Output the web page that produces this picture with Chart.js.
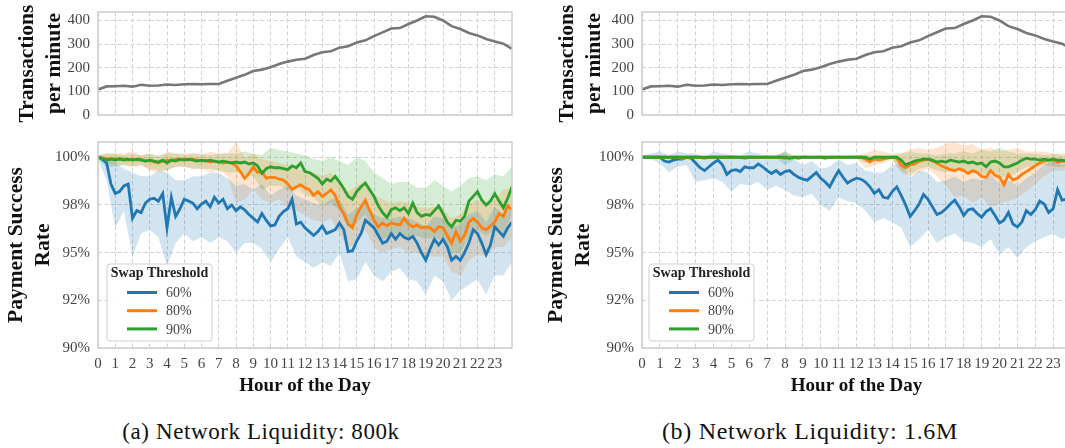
<!DOCTYPE html>
<html><head><meta charset="utf-8">
<script src="https://cdn.jsdelivr.net/npm/chart.js@4.4.1/dist/chart.umd.min.js"></script>
<style>
html,body{margin:0;padding:0;background:#fff;overflow:hidden;width:1065px;height:448px}
#wrap{position:relative;width:1065px;height:448px;overflow:hidden;background:#fff}
canvas{position:absolute}
.cap{position:absolute;font-family:"Liberation Serif","Times New Roman",serif;font-size:23px;line-height:23px;color:#111;white-space:nowrap;transform:translateX(-50%);letter-spacing:0.6px}
</style></head><body><div id="wrap">
<canvas id="ta" width="540" height="130" style="left:0;top:0;width:540px;height:130px"></canvas>
<canvas id="tb" width="560" height="130" style="left:540px;top:0;width:560px;height:130px"></canvas>
<canvas id="ba" width="540" height="270" style="left:0;top:130px;width:540px;height:270px"></canvas>
<canvas id="bb" width="560" height="270" style="left:540px;top:130px;width:560px;height:270px"></canvas>
<div class="cap" id="capA" style="left:261px;top:420px"></div>
<div class="cap" id="capB" style="left:810px;top:420px;font-size:24px;letter-spacing:0.7px"></div>
</div>
<script>
// ---------------- data ----------------
const CAPTIONS = ['(a) Network Liquidity: 800k', '(b) Network Liquidity: 1.6M'];
const THRESHOLDS = ['60%', '80%', '90%'];
const X_TICKS = [0,1,2,3,4,5,6,7,8,9,10,11,12,13,14,15,16,17,18,19,20,21,22,23];
const X_TICK_LABELS = X_TICKS.map(String);
const Y_TICKS = [90, 92.5, 95, 97.5, 100];
const Y_TICK_LABELS = ['90%', '92%', '95%', '98%', '100%'];
const TX_TICKS = [0, 100, 200, 300, 400];
const TX_TICK_LABELS = ['0', '100', '200', '300', '400'];

// hour grids: mean lines every 15 min, bands & tx every 30 min
const HQ = Array.from({length: 97}, (_, i) => i / 4);
const HH = Array.from({length: 49}, (_, i) => i / 2);

const TX = [108,121,122,124,120,128,124,125,129,127,130,131,130,131,131,145,158,170,186,192,202,216,226,234,238,254,266,270,285,291,307,316,334,350,366,368,385,400,418,416,400,376,364,347,337,322,311,302,280];

// ---- (a) 800k ----
const A60 = [100,99.9,99.7,98.6, 98.1,98.2,98.5,98.6, 96.8,97.2,97.1,97.6, 97.8,97.85,97.7,98.1, 96.3,97.9,96.9,97.3, 97.8,97.7,97.6,97.3, 97.55,97.7,97.4,97.9, 97.6,97.8,97.3,97.5, 97.2,97.4,97.25,97.0, 96.8,96.6,97.05,96.7, 96.4,96.45,96.9,97.15, 97.3,97.8,96.5,96.6, 96.3,96.1,95.9,96.1, 96.4,96.0,96.1,96.2, 96.55,96.2,95.05,95.1, 95.6,96.0,96.7,96.5, 96.3,95.9,95.5,95.6, 96.0,95.7,96.0,95.8, 95.7,95.85,95.5,95.0, 94.6,95.2,95.7,95.4, 95.7,95.3,94.6,94.8, 94.6,95.0,95.5,96.2, 96.0,95.5,94.9,95.4, 96.35,96.1,95.85,96.3, 96.6];
const A80 = [100,99.95,99.9,99.95, 99.9,99.95,99.9,99.85, 99.9,99.85,99.9,99.8, 99.85,99.75,99.7,99.8, 99.85,99.8,99.9,99.85, 99.9,99.85,99.9,99.85, 99.8,99.85,99.75,99.8, 99.75,99.7,99.75,99.7, 99.55,99.25,98.9,99.15, 99.5,99.2,99.25,98.9, 98.95,98.95,98.85,98.8, 98.6,98.3,98.45,98.55, 98.4,98.3,98.0,98.2, 97.95,98.1,98.3,98.0, 97.4,97.05,96.5,96.3, 97.0,97.4,97.75,97.2, 96.7,96.35,96.55,96.4, 96.55,96.5,96.45,96.8, 96.5,96.35,96.45,96.3, 96.35,96.3,96.1,96.35, 96.3,95.9,95.5,96.1, 95.6,95.9,96.6,96.8, 96.6,96.3,96.2,96.4, 96.6,97.05,96.9,97.45, 97.25];
const A90 = [100,99.95,99.85,99.9, 99.85,99.9,99.85,99.9, 99.85,99.9,99.85,99.8, 99.85,99.8,99.75,99.85, 99.7,99.85,99.8,99.9, 99.85,99.9,99.85,99.8, 99.85,99.8,99.85,99.8, 99.75,99.8,99.75,99.7, 99.75,99.7,99.75,99.65, 99.7,99.55,99.15,99.4, 99.5,99.45,99.45,99.4, 99.35,99.55,99.45,99.7, 99.25,99.2,99.05,98.9, 98.6,98.85,98.75,99.0, 98.7,98.35,97.95,97.8, 98.2,98.45,98.65,98.3, 97.95,97.45,97.1,96.85, 97.25,97.35,97.2,97.35, 97.05,97.6,97.1,96.9, 97.0,96.95,97.2,97.45, 97.05,96.6,96.35,96.7, 96.65,96.9,97.7,97.95, 98.2,97.75,97.5,97.7, 98.1,97.7,97.35,97.85, 98.45];
const A60_LO = [99.9,98.8,96.3,97.2,94.8,96.0,96.2,95.8,94.3,95.5,96.0,95.6,95.8,95.5,95.8,95.6,95.0,95.5,95.5,95.2,94.5,95.2,95.8,94.8,94.5,94.2,94.5,94.3,95.0,93.5,93.6,94.5,93.8,93.5,94.0,94.2,93.6,93.5,92.8,93.8,93.5,92.5,93.0,93.3,93.6,92.8,93.8,93.8,94.5];
const A60_HI = [100.1,100.0,99.7,99.4,99.2,99.0,99.0,99.3,99.2,98.8,98.8,99.0,99.0,99.2,99.2,98.9,98.5,98.6,98.3,98.6,98.0,98.3,98.5,98.0,97.8,97.6,97.5,97.8,97.8,97.0,97.3,97.6,97.0,96.8,96.8,96.9,96.8,96.6,96.4,96.9,96.8,96.3,96.5,97.0,97.2,96.6,97.4,97.0,97.4];
const A80_LO = [99.9,99.7,99.6,99.6,99.5,99.6,99.3,99.2,99.3,99.5,99.5,99.4,99.4,99.2,99.3,99.0,97.6,97.8,98.3,97.8,97.6,97.8,97.3,97.2,97.0,96.7,96.6,96.8,96.0,95.2,95.6,96.2,95.3,95.0,95.2,95.3,95.0,95.0,94.8,94.8,94.8,94.0,93.8,94.6,94.9,94.8,95.3,95.3,95.8];
const A80_HI = [100.1,100.2,100.2,100.2,100.3,100.1,100.2,100.0,100.3,100.2,100.2,100.2,100.1,100.3,100.2,100.2,100.8,100.0,100.2,99.9,99.8,99.7,99.6,99.4,99.3,99.2,99.0,99.2,98.7,98.2,98.5,98.8,98.0,97.8,97.6,97.7,97.6,97.4,97.3,97.4,97.3,96.8,97.0,97.6,97.8,97.4,97.8,98.3,98.4];
const A90_LO = [99.9,99.5,99.5,99.6,99.5,99.6,99.4,99.3,99.3,99.5,99.5,99.4,99.4,99.4,99.3,99.2,99.2,99.1,99.0,98.3,98.5,98.5,98.3,98.5,98.0,97.9,97.4,97.6,97.2,96.3,96.6,97.0,96.2,95.7,95.9,96.0,95.8,95.9,95.7,95.8,95.6,95.0,95.0,95.8,96.2,95.9,96.2,96.0,97.0];
const A90_HI = [100.1,100.2,100.2,100.1,100.2,100.1,100.2,100.1,100.2,100.2,100.1,100.2,100.2,100.1,100.2,100.2,100.2,100.3,100.2,100.1,100.5,100.4,100.3,100.2,100.1,99.9,99.8,100.0,99.8,99.6,100.0,99.8,99.2,98.9,98.6,98.7,98.7,98.4,98.4,98.8,98.5,98.2,98.5,98.9,99.0,98.8,99.1,99.0,99.5];

// ---- (b) 1.6M ----
const B60 = [100,100,100,100, 100,99.8,99.75,99.85, 99.9,99.9,100,99.95, 99.7,99.45,99.3,99.5, 99.7,99.85,99.6,99.1, 99.3,99.35,99.25,99.5, 99.45,99.45,99.65,99.5, 99.3,99.15,99.3,99.1, 99.25,99.3,99.1,98.95, 98.85,98.8,99.0,99.2, 98.9,98.7,98.45,98.9, 99.3,98.95,98.65,98.8, 98.9,98.85,98.7,98.45, 98.1,98.3,97.9,97.85, 98.2,98.45,98.0,97.5, 96.9,97.2,97.55,98.05, 97.8,97.4,97.0,97.1, 97.3,97.55,97.75,97.4, 96.95,97.25,97.3,97.05, 96.85,97.15,97.3,96.95, 96.55,96.7,97.1,96.5, 96.35,96.6,97.2,97.0, 97.25,97.7,97.55,97.1, 97.3,98.3,97.75,97.8, 97.9];
const B80 = [100,100,100,100, 100,100,100,100, 100,99.95,100,100, 100,100,99.95,100, 100,100,100,100, 100,100,100,99.95, 100,100,100,100, 100,100,100,100, 99.95,100,100,99.95, 100,100,100,100, 100,99.95,100,100, 100,100,100,100, 100,100,99.9,99.75, 99.9,99.85,99.9,99.95, 100,99.95,99.6,99.45, 99.6,99.65,99.8,99.85, 99.9,99.8,99.7,99.55, 99.45,99.35,99.3,99.4, 99.3,99.15,99.3,99.2, 99.0,98.95,99.3,99.05, 98.95,98.55,99.1,98.8, 98.9,99.1,99.25,99.4, 99.55,99.7,99.8,99.85, 99.85,99.75,99.8,99.8, 99.8];
const B90 = [100,100,100,100, 100,100,100,100, 100,100,100,100, 100,100,100,100, 100,100,100,100, 100,100,100,100, 100,100,100,100, 100,100,100,100, 100,99.95,100,100, 100,100,100,100, 100,100,100,100, 100,100,100,100, 100,100,100,99.9, 100,100,100,100, 100,100,99.85,99.6, 99.7,99.8,99.85,99.9, 99.9,99.85,99.75,99.8, 99.75,99.85,99.8,99.75, 99.8,99.7,99.75,99.65, 99.7,99.5,99.75,99.8, 99.7,99.5,99.5,99.6, 99.7,99.85,99.95,99.9, 99.9,99.85,99.9,99.85, 99.9,99.85,99.85,99.8, 99.85];
const B60_LO = [99.9,99.9,99.7,99.2,99.5,99.6,98.7,98.8,98.9,98.7,98.2,98.6,98.5,98.7,98.3,98.5,98.3,98.0,97.9,98.1,97.5,97.2,97.9,97.7,97.6,97.2,96.6,96.8,96.6,96.3,95.3,95.7,96.2,95.5,95.8,96.0,95.6,95.5,95.3,95.7,94.9,95.3,94.7,95.3,95.6,95.8,96.0,95.7,96.0];
const B60_HI = [100.1,100.2,100.3,100.1,100.3,100.2,100.2,100.0,100.3,100.2,100.1,100.1,100.3,100.2,100.0,100.1,100.3,99.9,99.6,99.8,99.4,99.5,99.9,99.6,99.7,99.3,99.2,99.2,99.6,99.7,98.9,99.3,99.2,98.7,98.8,99.0,98.7,98.9,98.8,99.1,98.6,98.8,98.5,98.9,99.2,99.6,99.8,99.6,99.7];
const B80_LO = [99.95,99.95,99.95,99.95,99.95,99.95,99.95,99.95,99.95,99.95,99.95,99.95,99.95,99.95,99.95,99.95,99.95,99.95,99.95,99.95,99.95,99.95,99.95,99.95,99.95,99.4,99.6,99.7,99.85,99.2,99.0,99.2,99.4,99.0,98.5,97.9,98.0,97.6,97.9,97.4,97.6,97.7,97.9,98.2,98.6,99.0,99.3,99.3,99.4];
const B80_HI = [100.1,100.05,100.1,100.05,100.1,100.1,100.05,100.1,100.05,100.1,100.1,100.05,100.1,100.05,100.1,100.1,100.2,100.05,100.1,100.05,100.1,100.1,100.05,100.1,100.1,100.2,100.4,100.3,100.2,100.2,100.4,100.5,100.4,100.5,100.7,100.8,100.6,100.7,100.4,100.5,100.3,100.4,100.5,100.3,100.3,100.3,100.2,100.2,100.2];
const B90_LO = [99.95,99.95,99.95,99.95,99.95,99.95,99.95,99.95,99.95,99.95,99.95,99.95,99.95,99.95,99.95,99.95,99.6,99.85,99.95,99.95,99.95,99.95,99.95,99.95,99.95,99.7,99.9,99.95,99.9,99.3,99.1,99.4,99.5,99.3,99.2,99.4,99.3,99.2,99.1,99.2,98.9,99.0,99.2,99.5,99.5,99.6,99.5,99.5,99.6];
const B90_HI = [100.1,100.05,100.1,100.05,100.1,100.05,100.1,100.05,100.1,100.05,100.1,100.05,100.1,100.05,100.1,100.05,100.3,100.1,100.1,100.05,100.1,100.05,100.1,100.05,100.1,100.1,100.1,100.1,100.1,100.2,100.3,100.2,100.2,100.1,100.2,100.2,100.3,100.2,100.4,100.3,100.5,100.3,100.2,100.2,100.2,100.1,100.2,100.1,100.1];

// ---------------- styling ----------------
const COLORS = ['#1f77b4', '#ff7f0e', '#2ca02c'];
const BANDS = ['rgba(31,119,180,0.2)', 'rgba(255,127,14,0.2)', 'rgba(44,160,44,0.2)'];
const GRID = '#d2d2d2';
const FRAME = '#cccccc';
const SERIF = '"Liberation Serif", "Times New Roman", serif';
Chart.defaults.font.family = SERIF;
Chart.defaults.color = '#444';

const pts = (xs, ys) => ys.map((y, i) => ({x: xs[i], y}));

const framePlugin = {
  id: 'frameLegend',
  afterDatasetsDraw(chart, args, opts) {
    const {ctx, chartArea: ca} = chart;
    ctx.save();
    ctx.strokeStyle = FRAME; ctx.lineWidth = 1.5;
    ctx.strokeRect(ca.left, ca.top, ca.right - ca.left, ca.bottom - ca.top);
    if (opts && opts.show) {
      const w = 105, h = 77, r = 3;
      const x = ca.left + opts.dx, y = ca.bottom - opts.dy - h;
      ctx.beginPath();
      ctx.moveTo(x + r, y); ctx.lineTo(x + w - r, y); ctx.arcTo(x + w, y, x + w, y + r, r);
      ctx.lineTo(x + w, y + h - r); ctx.arcTo(x + w, y + h, x + w - r, y + h, r);
      ctx.lineTo(x + r, y + h); ctx.arcTo(x, y + h, x, y + h - r, r);
      ctx.lineTo(x, y + r); ctx.arcTo(x, y, x + r, y, r); ctx.closePath();
      ctx.fillStyle = 'rgba(255,255,255,0.92)'; ctx.fill();
      ctx.strokeStyle = '#cfcfcf'; ctx.lineWidth = 1; ctx.stroke();
      ctx.fillStyle = '#222'; ctx.textAlign = 'center'; ctx.textBaseline = 'middle';
      ctx.font = 'bold 14px ' + SERIF;
      ctx.fillText('Swap Threshold', x + w / 2, y + 9.5);
      const means = chart.data.datasets.filter(d => d.isMean).sort((a, b) => a.rank - b.rank);
      means.forEach((d, i) => {
        const ly = y + 28.5 + i * 18.2;
        ctx.strokeStyle = d.borderColor; ctx.lineWidth = 3;
        ctx.beginPath(); ctx.moveTo(x + 20, ly); ctx.lineTo(x + 50, ly); ctx.stroke();
        ctx.fillStyle = '#444'; ctx.textAlign = 'left'; ctx.font = '14px ' + SERIF;
        ctx.fillText(d.label, x + 59, ly + 1);
      });
    }
    ctx.restore();
  }
};

function xScale(showLabels, h) {
  return {
    type: 'linear', min: 0, max: 24,
    afterBuildTicks: s => { s.ticks = X_TICKS.map(v => ({value: v})); },
    afterFit: s => { s.height = h; s.paddingLeft = 0; s.paddingRight = 0; },
    ticks: {display: showLabels, autoSkip: false, maxRotation: 0, minRotation: 0, padding: 7,
      font: {size: 15}, color: '#444', callback: (v, i) => X_TICK_LABELS[i]},
    grid: {color: GRID, lineWidth: 1, drawTicks: false},
    border: {display: false, dash: [4, 2.5]},
    title: showLabels ? {display: true, text: 'Hour of the Day', color: '#111',
      font: {size: 19, weight: 'bold'}, padding: {top: 0, bottom: 3}} : {display: false}
  };
}

function yFit(w) {
  return s => { s.width = w; s.paddingTop = 0; s.paddingBottom = 0; };
}

function topChart(id, yW, padR) {
  new Chart(document.getElementById(id), {
    type: 'line',
    data: {datasets: [{data: pts(HH, TX), borderColor: '#777777', borderWidth: 2.6, pointRadius: 0, tension: 0, fill: false}]},
    options: {
      responsive: false, animation: false, devicePixelRatio: 1,
      layout: {padding: {top: 12, right: padR, bottom: 0, left: 0}},
      plugins: {legend: {display: false}, tooltip: {enabled: false}, frameLegend: {show: false}},
      scales: {
        x: xScale(false, 15),
        y: {min: 0, max: 436,
          afterBuildTicks: s => { s.ticks = TX_TICKS.map(v => ({value: v})); },
          afterFit: yFit(yW),
          ticks: {padding: 8, font: {size: 15}, color: '#444', callback: (v, i) => TX_TICK_LABELS[i]},
          grid: {color: GRID, lineWidth: 1, drawTicks: false},
          border: {display: false, dash: [4, 2.5]},
          title: {display: true, text: ['Transactions', 'per minute'], color: '#111',
            font: {size: 21.5, weight: 'bold', lineHeight: '27px'}, padding: {top: 14}}
        }
      }
    },
    plugins: [framePlugin]
  });
}

function bottomChart(id, yW, padR, means, los, his, legendDx) {
  const ds = [];
  [0, 1, 2].forEach(k => {
    ds.push({data: pts(HH, los[k]), borderWidth: 0, pointRadius: 0, fill: false, tension: 0, borderColor: 'rgba(0,0,0,0)'});
    ds.push({data: pts(HH, his[k]), borderWidth: 0, pointRadius: 0, fill: '-1', tension: 0, borderColor: 'rgba(0,0,0,0)', backgroundColor: BANDS[k]});
  });
  [2, 1, 0].forEach(k => {
    ds.push({label: THRESHOLDS[k], isMean: true, rank: k, data: pts(HQ, means[k]), borderColor: COLORS[k],
      borderWidth: 2.8, pointRadius: 0, tension: 0, fill: false, order: 0});
  });
  new Chart(document.getElementById(id), {
    type: 'line',
    data: {datasets: ds},
    options: {
      responsive: false, animation: false, devicePixelRatio: 1,
      layout: {padding: {top: 12, right: padR, bottom: 0, left: 0}},
      plugins: {legend: {display: false}, tooltip: {enabled: false},
        filler: {drawTime: 'beforeDatasetsDraw'}, frameLegend: {show: true, dx: legendDx, dy: 7}},
      scales: {
        x: xScale(true, 52),
        y: {min: 90, max: 100.8,
          afterBuildTicks: s => { s.ticks = Y_TICKS.map(v => ({value: v})); },
          afterFit: yFit(yW),
          ticks: {padding: 8, font: {size: 15}, color: '#444', callback: (v, i) => Y_TICK_LABELS[i]},
          grid: {color: GRID, lineWidth: 1, drawTicks: false},
          border: {display: false, dash: [4, 2.5]},
          title: {display: true, text: ['Payment Success', 'Rate'], color: '#111',
            font: {size: 21.5, weight: 'bold', lineHeight: '27px'}, padding: {top: 3}}
        }
      }
    },
    plugins: [framePlugin]
  });
}

topChart('ta', 98, 28);
topChart('tb', 102, 29);
bottomChart('ba', 98, 28, [A60, A80, A90], [A60_LO, A80_LO, A90_LO], [A60_HI, A80_HI, A90_HI], 9);
bottomChart('bb', 102, 29, [B60, B80, B90], [B60_LO, B80_LO, B90_LO], [B60_HI, B80_HI, B90_HI], 7);
document.getElementById('capA').textContent = CAPTIONS[0];
document.getElementById('capB').textContent = CAPTIONS[1];
</script>
</body></html>
